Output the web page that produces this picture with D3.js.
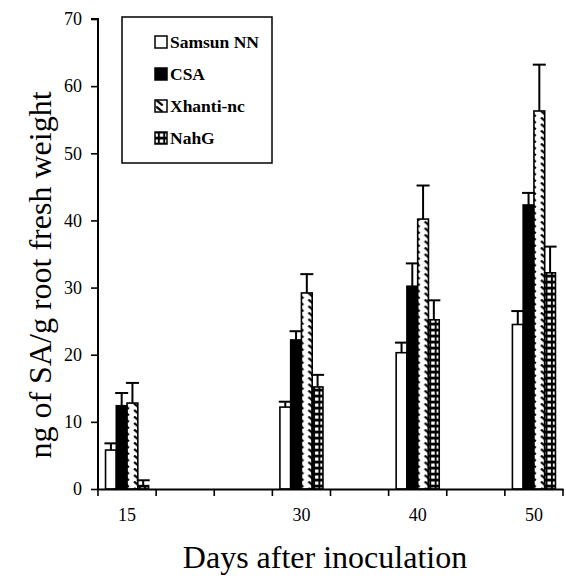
<!DOCTYPE html>
<html lang="en">
<head>
<meta charset="UTF-8">
<title>SA in roots after inoculation</title>
<script src="https://cdn.jsdelivr.net/npm/d3@7/dist/d3.min.js"></script>
<style>
  body { margin: 0; background: #fff; }
  svg { display: block; }
  svg text { font-family: "Liberation Serif", "DejaVu Serif", serif; fill: #000; }
</style>
</head>
<body>
<svg id="chart" width="566" height="578"></svg>
<script>
  // one slot on the axis every 5 days, only some of them were sampled
  const axisDays = ["15", "20", "25", "30", "35", "40", "45", "50"];
  const labelledDays = ["15", "30", "40", "50"];
  const sampleDays = ["15", "30", "40", "50"];
  const seriesNames = ["Samsun NN", "CSA", "Xhanti-nc", "NahG"];

  const samsun = [5.8, 12.2, 20.3, 24.5];
  const samsunErr = [1.0, 0.8, 1.5, 2.0];
  const csa = [12.4, 22.2, 30.2, 42.3];
  const csaErr = [1.9, 1.3, 3.4, 1.8];
  const xhanti = [12.8, 29.2, 40.2, 56.3];
  const xhantiErr = [3.0, 2.8, 5.0, 6.9];
  const nahg = [0.5, 15.2, 25.2, 32.2];
  const nahgErr = [0.8, 1.8, 2.9, 3.9];

  const yTicks = [0, 10, 20, 30, 40, 50, 60, 70];

  const seriesValues = [samsun, csa, xhanti, nahg];
  const seriesErrors = [samsunErr, csaErr, xhantiErr, nahgErr];

  const serif = "'Liberation Serif', 'DejaVu Serif', serif";

  const svg = d3.select("#chart");

  const x0 = d3.scaleBand().domain(axisDays).range([98, 563]);
  const x1 = d3.scaleBand().domain(seriesNames).range([0, x0.bandwidth()]).paddingOuter(0.7);
  const y = d3.scaleLinear().domain([0, 70]).range([489, 19]);

  // fills: plain white, black, diagonal dashes, white squares on black
  const defs = svg.append("defs");
  const step = x0.step() / 5;

  const hatch = defs.append("pattern")
    .attr("id", "hatch")
    .attr("patternUnits", "userSpaceOnUse")
    .attr("x", x0.range()[0] + x1("Xhanti-nc"))
    .attr("width", step)
    .attr("height", 6.5);
  hatch.append("rect").attr("width", step).attr("height", 6.5).attr("fill", "#fff");
  hatch.append("line")
    .attr("x1", 2).attr("y1", 0.5)
    .attr("x2", 8.5).attr("y2", 6)
    .attr("stroke", "#000").attr("stroke-width", 2.2);

  const checks = defs.append("pattern")
    .attr("id", "checks")
    .attr("patternUnits", "userSpaceOnUse")
    .attr("x", x0.range()[0] + x1("NahG") + 1)
    .attr("width", 5.4)
    .attr("height", 6);
  checks.append("rect").attr("width", 5.4).attr("height", 6).attr("fill", "#000");
  checks.append("rect").attr("x", 1).attr("y", 1.5).attr("width", 3.4).attr("height", 3.2).attr("fill", "#fff");

  const fills = ["#fff", "#000", "url(#hatch)", "url(#checks)"];

  // bars
  const groups = svg.append("g")
    .selectAll("g")
    .data(sampleDays)
    .join("g")
    .attr("transform", d => `translate(${x0(d)},0)`);

  groups.selectAll("rect")
    .data((d, i) => seriesNames.map((s, j) => ({ s, j, v: seriesValues[j][i], e: seriesErrors[j][i] })))
    .join("rect")
    .attr("x", d => x1(d.s))
    .attr("y", d => y(d.v))
    .attr("width", x1.bandwidth())
    .attr("height", d => y(0) - y(d.v))
    .attr("fill", d => fills[d.j])
    .attr("stroke", "#000")
    .attr("stroke-width", 1.6);

  // error bars (upper half only)
  const err = groups.selectAll("g.err")
    .data((d, i) => seriesNames.map((s, j) => ({ s, v: seriesValues[j][i], e: seriesErrors[j][i] })))
    .join("g")
    .attr("class", "err")
    .attr("stroke", "#000")
    .attr("stroke-width", 2);

  err.append("line")
    .attr("x1", d => x1(d.s) + x1.bandwidth() / 2)
    .attr("x2", d => x1(d.s) + x1.bandwidth() / 2)
    .attr("y1", d => y(d.v))
    .attr("y2", d => y(d.v + d.e));

  err.append("line")
    .attr("x1", d => x1(d.s) + x1.bandwidth() / 2 - 6.5)
    .attr("x2", d => x1(d.s) + x1.bandwidth() / 2 + 6.5)
    .attr("y1", d => y(d.v + d.e))
    .attr("y2", d => y(d.v + d.e));

  // y axis
  const yAxis = svg.append("g")
    .attr("transform", `translate(${x0.range()[0]},0)`)
    .call(d3.axisLeft(y).tickValues(yTicks).tickSize(7).tickPadding(9))
    .attr("font-family", serif)
    .attr("font-size", 18);
  yAxis.select(".domain").attr("stroke-width", 2).attr("d", `M-7,${y(70)}H0V${y(0)}`);
  yAxis.selectAll(".tick line").attr("stroke-width", 1.6);

  // x axis: labels in the middle of slots, ticks on the slot edges
  const xAxis = svg.append("g")
    .attr("transform", `translate(0,${y(0)})`)
    .call(d3.axisBottom(x0).tickValues(labelledDays).tickSize(0).tickPadding(19))
    .attr("font-family", serif)
    .attr("font-size", 18);
  xAxis.select(".domain").attr("stroke-width", 2);

  const edges = axisDays.map(d => x0(d)).concat([x0.range()[1]]);
  xAxis.selectAll("line.edge")
    .data(edges)
    .join("line")
    .attr("class", "edge")
    .attr("x1", d => d).attr("x2", d => d)
    .attr("y1", 0).attr("y2", 7)
    .attr("stroke", "#000")
    .attr("stroke-width", 1.6);

  // axis titles
  svg.append("text")
    .attr("transform", "translate(51,275) rotate(-90)")
    .attr("text-anchor", "middle")
    .attr("font-size", 32)
    .text("ng of SA/g root fresh weight");

  svg.append("text")
    .attr("x", 325)
    .attr("y", 568)
    .attr("text-anchor", "middle")
    .attr("font-size", 32)
    .text("Days after inoculation");

  // legend
  const legend = svg.append("g");
  legend.append("rect")
    .attr("x", 122).attr("y", 17)
    .attr("width", 150).attr("height", 146)
    .attr("fill", "#fff")
    .attr("stroke", "#000")
    .attr("stroke-width", 1.5);

  const items = legend.selectAll("g.item")
    .data(seriesNames)
    .join("g")
    .attr("class", "item")
    .attr("transform", (d, i) => `translate(155,${42 + i * 32})`);

  items.append("rect")
    .attr("x", 0).attr("y", -6)
    .attr("width", 12).attr("height", 12)
    .attr("fill", (d, i) => fills[i])
    .attr("stroke", "#000")
    .attr("stroke-width", 1.5);

  items.append("text")
    .attr("x", 15)
    .attr("y", 6)
    .attr("font-size", 17.5)
    .attr("font-weight", "bold")
    .text(d => d);
</script>
</body>
</html>
